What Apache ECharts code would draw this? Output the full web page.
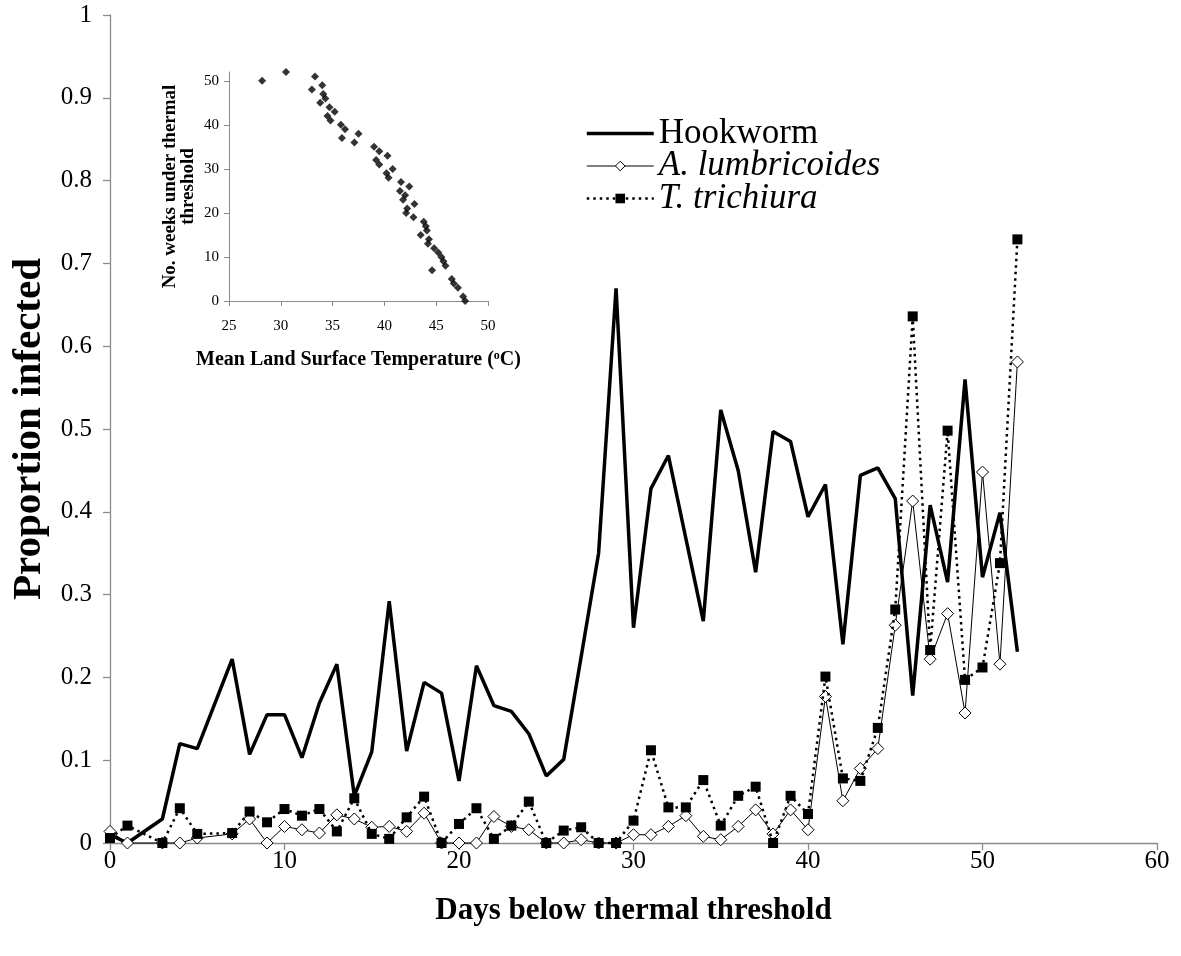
<!DOCTYPE html>
<html>
<head>
<meta charset="utf-8">
<script src="https://cdn.jsdelivr.net/npm/echarts@6/dist/echarts.min.js"></script>
<style>
html,body{margin:0;padding:0;background:#fff;}
#c{width:1181px;height:956px;}
</style>
</head>
<body>
<div id="c"></div>
<script>
// ---- main chart data ----
const days = [0,1,3,4,5,7,8,9,10,11,12,13,14,15,16,17,18,19,20,21,22,23,24,25,26,27,28,29,30,31,32,33,34,35,36,37,38,39,40,41,42,43,44,45,46,47,48,49,50,51,52];
const hookworm = [0.010,0,0.029,0.120,0.114,0.222,0.107,0.155,0.155,0.103,0.169,0.216,0.057,0.110,0.292,0.111,0.194,0.181,0.075,0.214,0.166,0.159,0.132,0.081,0.101,0.225,0.350,0.670,0.260,0.428,0.468,0.368,0.268,0.523,0.450,0.327,0.497,0.485,0.394,0.433,0.240,0.444,0.453,0.416,0.178,0.408,0.315,0.560,0.321,0.399,0.231];
const lumbricoides = [0.014,0,0,0,0.006,0.011,0.029,0,0.020,0.016,0.012,0.034,0.029,0.019,0.020,0.014,0.036,0,0,0,0.032,0.020,0.016,0,0,0.004,0,0,0.010,0.010,0.020,0.033,0.008,0.004,0.020,0.040,0.011,0.040,0.016,0.177,0.051,0.090,0.114,0.263,0.413,0.222,0.277,0.157,0.448,0.216,0.581];
const trichiura = [0.006,0.021,0,0.042,0.011,0.012,0.038,0.025,0.041,0.033,0.041,0.014,0.054,0.011,0.005,0.031,0.056,0,0.023,0.042,0.005,0.021,0.050,0,0.015,0.019,0,0,0.027,0.112,0.043,0.043,0.076,0.021,0.057,0.068,0,0.057,0.035,0.201,0.078,0.075,0.139,0.282,0.636,0.233,0.498,0.197,0.212,0.338,0.729];
const seriesNames = ['Hookworm','A. lumbricoides','T. trichiura'];

// ---- inset data ----
const insetTemp = [28.2,30.5,33.3,33.0,34.0,34.1,34.3,33.8,34.7,35.2,34.5,34.8,35.8,36.2,35.9,37.5,37.1,39.0,39.5,40.3,39.2,39.5,40.8,40.2,40.4,41.6,42.4,41.5,42.0,41.8,42.9,42.2,42.1,42.8,43.8,44.0,44.1,43.5,44.3,44.2,44.8,45.2,45.5,45.7,45.9,44.6,46.5,46.7,47.1,47.6,47.8];
const insetWeeks = [50,52,51,48,49,47,46,45,44,43,42,41,40,39,37,38,36,35,34,33,32,31,30,29,28,27,26,25,24,23,22,21,20,19,18,17,16,15,14,13,12,11,10,9,8,7,5,4,3,1,0];
const insetYTicks = [0,10,20,30,40,50];

const FONT = '"Liberation Serif","Times New Roman",serif';
const AX = '#8a8a8a';

const chart = echarts.init(document.getElementById('c'), null, {renderer:'canvas'});

function pairs(xs, ys){ return xs.map((x,i)=>[x, ys[i]]); }

const option = {
  backgroundColor:'#fff',
  animation:false,
  grid:[
    {left:110, top:15, width:1047, height:828},
    {left:229, top:72, width:259, height:229}
  ],
  legend:{
    left:585, top:116, orient:'vertical', padding:0,
    itemWidth:67, itemHeight:12, itemGap:-2.5,
    lineStyle:{width:'inherit'},
    itemStyle:{borderWidth:'inherit'},
    textStyle:{fontFamily:FONT, fontSize:35, color:'#000'},
    data:[
      {name:seriesNames[0], itemStyle:{opacity:0}},
      {name:seriesNames[1], textStyle:{fontStyle:'italic'}},
      {name:seriesNames[2], textStyle:{fontStyle:'italic'}}
    ]
  },
  xAxis:[
    {gridIndex:0, type:'value', min:0, max:60, interval:10,
     axisLine:{lineStyle:{color:AX, width:1.3}},
     axisTick:{length:7, lineStyle:{color:AX, width:1.3}},
     splitLine:{show:false},
     axisLabel:{fontFamily:FONT, fontSize:25, color:'#000', margin:6},
     name:'Days below thermal threshold', nameLocation:'middle', nameGap:52,
     nameTextStyle:{fontFamily:FONT, fontSize:31, fontWeight:'bold', color:'#000'}},
    {gridIndex:1, type:'value', min:25, max:50, interval:5,
     axisLine:{lineStyle:{color:AX, width:1}},
     axisTick:{length:5, lineStyle:{color:AX}},
     splitLine:{show:false},
     axisLabel:{fontFamily:FONT, fontSize:15, color:'#000', margin:18},
     name:'Mean Land Surface Temperature ({sup|o}C)', nameLocation:'middle', nameGap:49,
     nameTextStyle:{fontFamily:FONT, fontSize:20, fontWeight:'bold', color:'#000',
       rich:{sup:{fontFamily:FONT, fontSize:12, fontWeight:'bold', color:'#000', verticalAlign:'top', padding:[0,0,6,0]}}}}
  ],
  yAxis:[
    {gridIndex:0, type:'value', min:0, max:1, interval:0.1,
     axisLine:{show:true, lineStyle:{color:AX, width:1.3}},
     axisTick:{show:true, length:7, lineStyle:{color:AX, width:1.3}},
     splitLine:{show:false},
     axisLabel:{fontFamily:FONT, fontSize:25, color:'#000', margin:18},
     name:'Proportion infected', nameLocation:'middle', nameRotate:90, nameGap:60,
     nameTextStyle:{fontFamily:FONT, fontSize:41, fontWeight:'bold', color:'#000'}},
    {gridIndex:1, type:'value', min:0, max:52,
     axisLine:{show:true, lineStyle:{color:AX, width:1}},
     axisTick:{show:true, length:5, lineStyle:{color:AX}, customValues:insetYTicks},
     splitLine:{show:false},
     axisLabel:{fontFamily:FONT, fontSize:15, color:'#000', margin:10, customValues:insetYTicks},
     name:'No. weeks under thermal\nthreshold', nameLocation:'middle', nameRotate:90, nameGap:32,
     nameTextStyle:{fontFamily:FONT, fontSize:19, fontWeight:'bold', color:'#000', lineHeight:18}}
  ],
  series:[
    {type:'line', name:seriesNames[0], xAxisIndex:0, yAxisIndex:0, clip:false,
     data:pairs(days, hookworm), symbol:'none',
     lineStyle:{color:'#000', width:3.5}, itemStyle:{color:'#000'}, z:2},
    {type:'line', name:seriesNames[1], xAxisIndex:0, yAxisIndex:0, clip:false,
     data:pairs(days, lumbricoides), symbol:'diamond', symbolSize:12, showAllSymbol:true,
     lineStyle:{color:'#000', width:1}, itemStyle:{color:'#fff', borderColor:'#000', borderWidth:1}, z:3},
    {type:'line', name:seriesNames[2], xAxisIndex:0, yAxisIndex:0, clip:false,
     data:pairs(days, trichiura), symbol:'rect', symbolSize:10, showAllSymbol:true,
     lineStyle:{color:'#000', width:2.5, type:[2.5,4]}, itemStyle:{color:'#000'}, z:4},
    {type:'scatter', xAxisIndex:1, yAxisIndex:1, clip:false,
     data:pairs(insetTemp, insetWeeks), symbol:'diamond', symbolSize:8,
     itemStyle:{color:'#000'}}
  ]
};
chart.setOption(option);
</script>
</body>
</html>
